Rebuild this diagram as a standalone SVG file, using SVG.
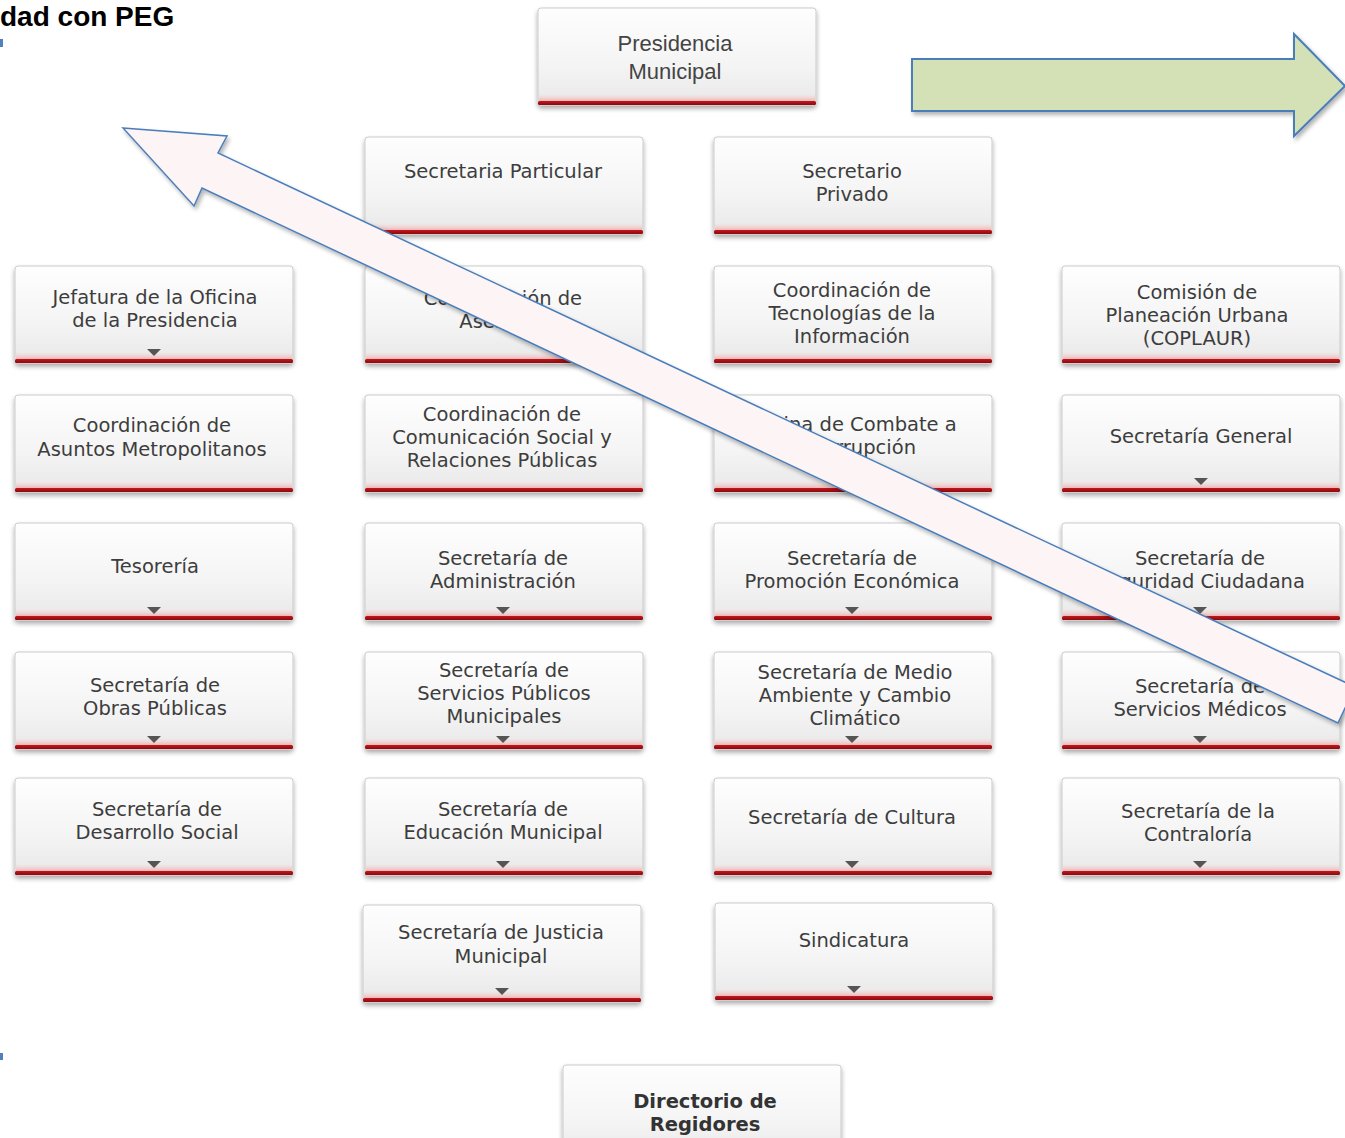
<svg xmlns="http://www.w3.org/2000/svg" xmlns:xlink="http://www.w3.org/1999/xlink" width="1345" height="1138" viewBox="0 0 1345 1138">
<style>
.t{font-family:"DejaVu Sans","Verdana",sans-serif;font-size:19.5px;fill:#3d3d3d;text-anchor:middle}
.tb{font-family:"DejaVu Sans","Verdana",sans-serif;font-size:19.5px;font-weight:bold;fill:#333;text-anchor:middle}
.ta{font-family:"Liberation Sans","Arial",sans-serif;font-size:22px;fill:#444;text-anchor:middle}
.title{font-family:"Liberation Sans","Arial",sans-serif;font-size:28px;font-weight:bold;fill:#000}
.tri{fill:#555}
</style>
<defs>
<linearGradient id="bg" x1="0" y1="0" x2="0" y2="1">
<stop offset="0" stop-color="#fefefe"/>
<stop offset="0.6" stop-color="#f4f4f4"/>
<stop offset="1" stop-color="#e8e8e8"/>
</linearGradient>
<linearGradient id="glow" x1="0" y1="0" x2="0" y2="1">
<stop offset="0" stop-color="#f6d6d6" stop-opacity="0"/>
<stop offset="1" stop-color="#f0b4b4"/>
</linearGradient>
<linearGradient id="red" x1="0" y1="0" x2="0" y2="1">
<stop offset="0" stop-color="#c4161c"/>
<stop offset="1" stop-color="#8a0a0e"/>
</linearGradient>
<filter id="sh" x="-5%" y="-10%" width="110%" height="130%">
<feGaussianBlur in="SourceAlpha" stdDeviation="2.5"/>
<feOffset dx="0" dy="3" result="b"/>
<feComponentTransfer><feFuncA type="linear" slope="0.35"/></feComponentTransfer>
<feMerge><feMergeNode/><feMergeNode in="SourceGraphic"/></feMerge>
</filter>
<filter id="ash" x="-5%" y="-10%" width="110%" height="130%">
<feGaussianBlur in="SourceAlpha" stdDeviation="2"/>
<feOffset dx="2" dy="3" result="b"/>
<feComponentTransfer><feFuncA type="linear" slope="0.3"/></feComponentTransfer>
<feMerge><feMergeNode/><feMergeNode in="SourceGraphic"/></feMerge>
</filter>
<g id="box">
<rect x="0" y="0" width="278" height="97" rx="3" fill="url(#bg)" stroke="#cbcbcb" stroke-width="1" filter="url(#sh)"/>
<rect x="1" y="86" width="276" height="7" fill="url(#glow)"/>
<rect x="0" y="93" width="278" height="4" rx="1.5" fill="url(#red)"/>
</g>
<polygon id="tri" points="-7,-3 7,-3 0,4" class="tri"/>
</defs>
<rect width="1345" height="1138" fill="#fff"/>
<text class="title" x="0" y="26">dad con PEG</text>
<rect x="0" y="39" width="3" height="8" fill="#4f81bd"/>
<rect x="0" y="1053" width="3" height="7" fill="#4f81bd"/>

<g id="n-presidencia"><use href="#box" x="538" y="8"/><text class="ta" x="675" y="51">Presidencia</text><text class="ta" x="675" y="79">Municipal</text></g>

<g id="n-particular"><use href="#box" x="365" y="137"/><text class="t" x="503" y="178">Secretaria Particular</text></g>
<g id="n-privado"><use href="#box" x="714" y="137"/><text class="t" x="852" y="178">Secretario</text><text class="t" x="852" y="201">Privado</text></g>

<g id="n-jefatura"><use href="#box" x="15" y="266"/><text class="t" x="155" y="304">Jefatura de la Oficina</text><text class="t" x="155" y="327">de la Presidencia</text><use href="#tri" x="154" y="352"/></g>
<g id="n-asesores"><use href="#box" x="365" y="266"/><text class="t" x="503" y="305">Coordinación de</text><text class="t" x="503" y="328">Asesores</text></g>
<g id="n-tecnologias"><use href="#box" x="714" y="266"/><text class="t" x="852" y="297">Coordinación de</text><text class="t" x="852" y="320">Tecnologías de la</text><text class="t" x="852" y="343">Información</text></g>
<g id="n-coplaur"><use href="#box" x="1062" y="266"/><text class="t" x="1197" y="299">Comisión de</text><text class="t" x="1197" y="322">Planeación Urbana</text><text class="t" x="1197" y="345">(COPLAUR)</text></g>

<g id="n-metropolitanos"><use href="#box" x="15" y="395"/><text class="t" x="152" y="432">Coordinación de</text><text class="t" x="152" y="456">Asuntos Metropolitanos</text></g>
<g id="n-comunicacion"><use href="#box" x="365" y="395"/><text class="t" x="502" y="421">Coordinación de</text><text class="t" x="502" y="444">Comunicación Social y</text><text class="t" x="502" y="467">Relaciones Públicas</text></g>
<g id="n-corrupcion"><use href="#box" x="714" y="395"/><text class="t" x="851" y="431">Oficina de Combate a</text><text class="t" x="851" y="454">la Corrupción</text></g>
<g id="n-general"><use href="#box" x="1062" y="395"/><text class="t" x="1201" y="443">Secretaría General</text><use href="#tri" x="1201" y="481"/></g>

<g id="n-tesoreria"><use href="#box" x="15" y="523"/><text class="t" x="155" y="573">Tesorería</text><use href="#tri" x="154" y="610"/></g>
<g id="n-administracion"><use href="#box" x="365" y="523"/><text class="t" x="503" y="565">Secretaría de</text><text class="t" x="503" y="588">Administración</text><use href="#tri" x="503" y="610"/></g>
<g id="n-promocion"><use href="#box" x="714" y="523"/><text class="t" x="852" y="565">Secretaría de</text><text class="t" x="852" y="588">Promoción Económica</text><use href="#tri" x="852" y="610"/></g>
<g id="n-seguridad"><use href="#box" x="1062" y="523"/><text class="t" x="1200" y="565">Secretaría de</text><text class="t" x="1200" y="588">Seguridad Ciudadana</text><use href="#tri" x="1200" y="610"/></g>

<g id="n-obras"><use href="#box" x="15" y="652"/><text class="t" x="155" y="692">Secretaría de</text><text class="t" x="155" y="715">Obras Públicas</text><use href="#tri" x="154" y="739"/></g>
<g id="n-servicios"><use href="#box" x="365" y="652"/><text class="t" x="504" y="677">Secretaría de</text><text class="t" x="504" y="700">Servicios Públicos</text><text class="t" x="504" y="723">Municipales</text><use href="#tri" x="503" y="739"/></g>
<g id="n-medioambiente"><use href="#box" x="714" y="652"/><text class="t" x="855" y="679">Secretaría de Medio</text><text class="t" x="855" y="702">Ambiente y Cambio</text><text class="t" x="855" y="725">Climático</text><use href="#tri" x="852" y="739"/></g>
<g id="n-medicos"><use href="#box" x="1062" y="652"/><text class="t" x="1200" y="693">Secretaría de</text><text class="t" x="1200" y="716">Servicios Médicos</text><use href="#tri" x="1200" y="739"/></g>

<g id="n-desarrollo"><use href="#box" x="15" y="778"/><text class="t" x="157" y="816">Secretaría de</text><text class="t" x="157" y="839">Desarrollo Social</text><use href="#tri" x="154" y="864"/></g>
<g id="n-educacion"><use href="#box" x="365" y="778"/><text class="t" x="503" y="816">Secretaría de</text><text class="t" x="503" y="839">Educación Municipal</text><use href="#tri" x="503" y="864"/></g>
<g id="n-cultura"><use href="#box" x="714" y="778"/><text class="t" x="852" y="824">Secretaría de Cultura</text><use href="#tri" x="852" y="864"/></g>
<g id="n-contraloria"><use href="#box" x="1062" y="778"/><text class="t" x="1198" y="818">Secretaría de la</text><text class="t" x="1198" y="841">Contraloría</text><use href="#tri" x="1200" y="864"/></g>

<g id="n-justicia"><use href="#box" x="363" y="905"/><text class="t" x="501" y="939">Secretaría de Justicia</text><text class="t" x="501" y="963">Municipal</text><use href="#tri" x="502" y="991"/></g>
<g id="n-sindicatura"><use href="#box" x="715" y="903"/><text class="t" x="854" y="947">Sindicatura</text><use href="#tri" x="854" y="989"/></g>

<g id="n-directorio"><use href="#box" x="563" y="1065"/><text class="tb" x="705" y="1108">Directorio de</text><text class="tb" x="705" y="1131">Regidores</text></g>

<g id="annotations">
<polygon points="123,128 227,136 218,153 1355,687 1338,723 202,188 194,206" fill="#fcf4f5" stroke="#4a7ebb" stroke-width="1.5" stroke-linejoin="miter" filter="url(#ash)"/>
<polygon points="912,59 1294,59 1294,34 1345,86 1294,136 1294,111 912,111" fill="#d4e0b6" stroke="#4a7ebb" stroke-width="2" filter="url(#ash)"/>
</g>
</svg>
